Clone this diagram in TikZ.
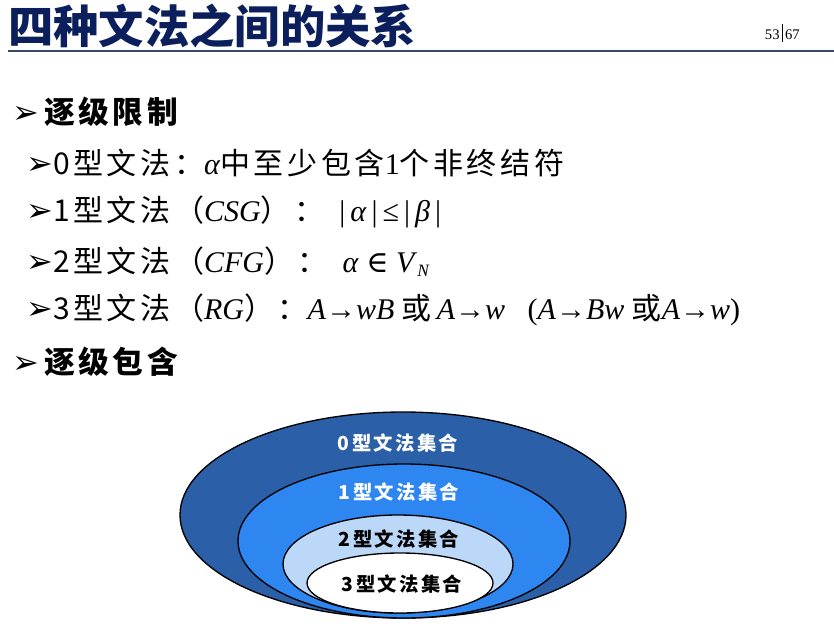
\documentclass[tikz,border=0pt]{standalone}
\usepackage{fontspec}
\setmainfont{Liberation Serif}
\newfontfamily\cjk{Noto Sans CJK SC}[LetterSpace=12]
\newfontfamily\cjkt{Noto Sans CJK SC}
\newfontfamily\dv{DejaVu Sans}
\newfontfamily\dvs{DejaVu Serif}
\definecolor{navy}{HTML}{0B1F5C}
\definecolor{c0}{HTML}{2B5FA8}
\definecolor{c1}{HTML}{2E86F0}
\definecolor{c2}{HTML}{BCD8F8}
\newcommand{\bul}{{\dv\fontsize{24}{24}\selectfont ➢}}
\begin{document}
\begin{tikzpicture}[x=0.75pt,y=-0.75pt,
  head/.style={anchor=west,inner sep=0pt,font=\cjk\bfseries\fontsize{23}{23}\selectfont},
  item/.style={anchor=west,inner sep=0pt,font=\fontsize{22.5}{23}\selectfont},
  lab/.style={inner sep=0pt,font=\cjk\bfseries\fontsize{14.5}{15}\selectfont},
  ell/.style={draw=black,line width=1pt}]
\useasboundingbox (0,0) rectangle (834,628);
\fill[white] (0,0) rectangle (834,628);
\node[anchor=west,inner sep=0pt,text=navy,font=\cjkt\bfseries\fontsize{34}{34}\selectfont] (title) at (8,26) {四种文法之间的关系};
\draw[navy!60!gray,line width=1.2pt] (8,51) -- (834,51);
\node[anchor=east,inner sep=0pt,font=\fontsize{11}{11}\selectfont] (pg) at (800,33) {53\,\rule[-2pt]{0.4pt}{13pt}\,67};
\node[head] (h1) at (12,112) {\bul\,逐级限制};
\node[item] (i0) at (26,163) {\bul{\cjk 0型文法：}\textit{α}{\cjk 中至少包含}1{\cjk 个非终结符}};
\node[item] (i1) at (26,212) {\bul{\cjk 1型文法（}\textit{CSG}{\cjk ）：}\enspace|\,\textit{α}\,|\,≤\,|\,\textit{β}\,|};
\node[item] (i2) at (26,262) {\bul{\cjk 2型文法（}\textit{CFG}{\cjk ）：}\enspace\textit{α} {\dvs ∈} \textit{V}\raisebox{-3pt}{\fontsize{13}{13}\selectfont\textit{N}}};
\node[item] (i3) at (26,310) {\bul{\cjk 3型文法（}\textit{RG}{\cjk ）：}\textit{A→wB} {\cjk 或}\,\textit{A→w}\enspace\ (\textit{A→Bw} {\cjk 或}\textit{A→w})};
\node[head] (h2) at (12,362) {\bul\,逐级包含};
\draw[ell,fill=c0] (403,515) ellipse (223 and 103);
\draw[ell,fill=c1] (404,541) ellipse (166 and 77);
\draw[ell,fill=c2] (398,564) ellipse (115 and 49);
\draw[ell,fill=white] (400,583) ellipse (93 and 30);
\node[lab,text=white] (l0) at (398,443) {0型文法集合};
\node[lab,text=white] (l1) at (399,492) {1型文法集合};
\node[lab] (l2) at (399,539) {2型文法集合};
\node[lab] (l3) at (402,584) {3型文法集合};
\end{tikzpicture}
\end{document}
